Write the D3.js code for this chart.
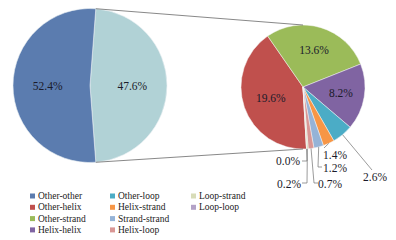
<!DOCTYPE html>
<html><head><meta charset="utf-8">
<script src="https://cdn.jsdelivr.net/npm/d3@7"></script>
<style>body{margin:0;background:#fff}svg{display:block}svg text{font-family:"Liberation Serif","DejaVu Serif",serif}</style>
</head><body>
<svg id="c" width="396" height="240"></svg>
<script>
// ---- data ----
const primaryNames = ["Other", "Other-other"];
const primaryValues = [47.6, 52.4];
const secondaryNames = ["Other-helix","Other-strand","Helix-helix","Other-loop","Helix-strand","Strand-strand","Helix-loop","Loop-strand","Loop-loop"];
const secondaryValues = [19.6, 13.6, 8.2, 2.6, 1.4, 1.2, 0.7, 0.2, 0.0];
const legendNames = ["Other-other","Other-helix","Other-strand","Helix-helix","Other-loop","Helix-strand","Strand-strand","Helix-loop","Loop-strand","Loop-loop"];

// ---- styles ----
const colors = {
  "Other":"#b1d2d6","Other-other":"#5b7caf","Other-helix":"#c0504d","Other-strand":"#9bbb59",
  "Helix-helix":"#8064a2","Other-loop":"#4bacc6","Helix-strand":"#f79646","Strand-strand":"#95b3d7",
  "Helix-loop":"#d99694","Loop-strand":"#d8dcb8","Loop-loop":"#b3a2c7"
};
const svg = d3.select("#c");
const deg = Math.PI/180;
const fmt = v => v.toFixed(1) + "%";

// ---- primary pie ----
const c1 = {x:90, y:85.5, r:77};
const otherSpan = primaryValues[0]/d3.sum(primaryValues)*2*Math.PI;
const pie1 = d3.pie().sort(null).startAngle(Math.PI/2 - otherSpan/2).endAngle(Math.PI/2 - otherSpan/2 + 2*Math.PI);
const arcs1 = pie1(primaryValues);
const arc1 = d3.arc().innerRadius(0).outerRadius(c1.r);
const g1 = svg.append("g").attr("transform",`translate(${c1.x},${c1.y})`);
g1.selectAll("path").data(arcs1).join("path")
  .attr("d",arc1).attr("fill",(d,i)=>colors[primaryNames[i]])
  .attr("stroke","#e8eef2").attr("stroke-width",0.6);
const lab1 = d3.arc().innerRadius(c1.r*0.55).outerRadius(c1.r*0.55);
g1.selectAll("text").data(arcs1).join("text")
  .attr("x",d=>lab1.centroid(d)[0]).attr("y",d=>lab1.centroid(d)[1])
  .attr("text-anchor","middle").attr("dominant-baseline","central")
  .attr("font-size",11.5).attr("fill","#1a1a2a")
  .text(d=>fmt(d.data));

// ---- secondary pie ----
const c2 = {x:303, y:87, r:62};
const s0 = -183.3*deg;
const pie2 = d3.pie().sort(null).startAngle(s0).endAngle(s0+2*Math.PI);
const arcs2 = pie2(secondaryValues);
const arc2 = d3.arc().innerRadius(0).outerRadius(c2.r);
const g2 = svg.append("g").attr("transform",`translate(${c2.x},${c2.y})`);
g2.selectAll("path").data(arcs2).join("path")
  .attr("d",arc2).attr("fill",(d,i)=>colors[secondaryNames[i]])
  .attr("stroke","#f4f4f4").attr("stroke-width",0.5);

// connector lines
const a0 = arcs1[0].startAngle, a1 = arcs1[0].endAngle;
const pt = (c,r,a)=>[c.x + r*Math.sin(a), c.y - r*Math.cos(a)];
const conn = [[pt(c1,c1.r,a0), pt(c2,c2.r,0)], [pt(c1,c1.r,a1), pt(c2,c2.r,Math.PI)]];
svg.selectAll("line.conn").data(conn).join("line").attr("class","conn")
  .attr("x1",d=>d[0][0]).attr("y1",d=>d[0][1]).attr("x2",d=>d[1][0]).attr("y2",d=>d[1][1])
  .attr("stroke","#6a6a6a").attr("stroke-width",0.8);

// labels: inside for big slices, leader lines for small ones
const labLayout = [
  {inside:true, r:0.55},
  {inside:true, r:0.62},
  {inside:true, r:0.62},
  {lx:375, ly:177, anchor:"middle", path:[[372,170]]},
  {lx:323, ly:155, anchor:"start", path:[[324,148]]},
  {lx:323, ly:168, anchor:"start", path:[[318,167],[322,167]]},
  {lx:318, ly:184, anchor:"start", path:[[314,183],[318,183]]},
  {lx:301, ly:184, anchor:"end", path:[[307,183],[302,183]]},
  {lx:300, ly:161, anchor:"end", path:[[307,161],[302,161]]}
];
const labArcs = arcs2.map((d,i)=>({d, L:labLayout[i]}));
const txt = svg.append("g");
labArcs.forEach(({d,L})=>{
  const mid = (d.startAngle+d.endAngle)/2;
  if (L.inside){
    const p = pt(c2, c2.r*L.r, mid);
    txt.append("text").attr("x",p[0]).attr("y",p[1])
      .attr("text-anchor","middle").attr("dominant-baseline","central")
      .attr("font-size",11.5).attr("fill","#1a1a2a").text(fmt(d.data));
  } else {
    const e = pt(c2, c2.r, mid);
    const pts = [e].concat(L.path);
    txt.append("path").attr("d",d3.line()(pts)).attr("fill","none")
      .attr("stroke","#707070").attr("stroke-width",0.7);
    txt.append("text").attr("x",L.lx).attr("y",L.ly)
      .attr("text-anchor",L.anchor).attr("dominant-baseline","central")
      .attr("font-size",11.5).attr("fill","#1a1a2a").text(fmt(d.data));
  }
});

// ---- legend ----
const legCols = [30, 110, 191];
const legRow0 = 196, legDy = 11.3, rowsPerCol = 4;
const leg = svg.append("g").selectAll("g").data(legendNames).join("g")
  .attr("transform",(d,i)=>`translate(${legCols[Math.floor(i/rowsPerCol)]},${legRow0 + (i%rowsPerCol)*legDy})`);
leg.append("rect").attr("x",0).attr("y",-2.5).attr("width",5).attr("height",5).attr("fill",d=>colors[d]);
leg.append("text").attr("x",8).attr("y",0).attr("dominant-baseline","central")
  .attr("font-size",9.5).attr("fill","#222").text(d=>d);
</script>
</body></html>
